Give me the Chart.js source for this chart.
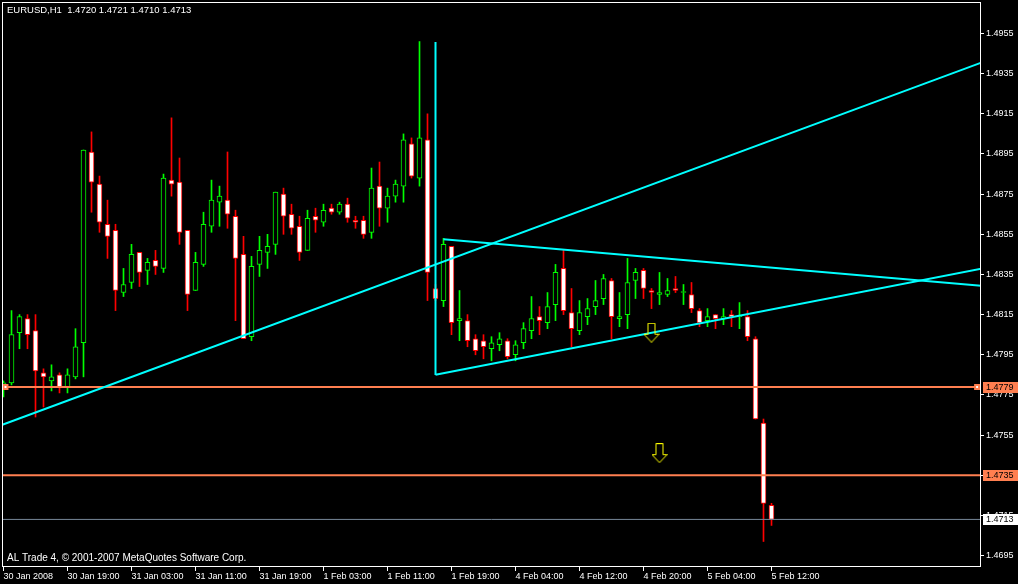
<!DOCTYPE html>
<html>
<head>
<meta charset="utf-8">
<script src="https://cdn.jsdelivr.net/npm/chart.js@4.4.1/dist/chart.umd.min.js"></script>
<style>
  html, body { margin: 0; padding: 0; background: #000; }
  #wrap { width: 1018px; height: 584px; }
</style>
</head>
<body>
<div id="wrap"><canvas id="chart" width="1018" height="584"></canvas></div>
<script>
// EURUSD H1 bars (bar 0 = 30 Jan 2008 11:00)
const open  = [1.4779,1.4781,1.4806,1.4813,1.4807,1.4786,1.4782,1.4785,1.4779,1.4784,
               1.4801,1.4896,1.4880,1.4860,1.4857,1.4826,1.4831,1.4846,1.4837,1.4842,
               1.4838,1.4882,1.4881,1.4857,1.4827,1.4840,1.4859,1.4871,1.4872,1.4864,
               1.4845,1.4804,1.4840,1.4846,1.4850,1.4875,1.4865,1.4859,1.4847,1.4864,
               1.4861,1.4868,1.4866,1.4870,1.4862,1.4862,1.4856,1.4879,1.4868,1.4874,
               1.4879,1.4900,1.4883,1.4902,1.4828,1.4822,1.4849,1.4812,1.4812,1.4803,
               1.4802,1.4798,1.4800,1.4802,1.4795,1.4801,1.4807,1.4814,1.4811,1.4820,
               1.4838,1.4816,1.4807,1.4814,1.4819,1.4823,1.4832,1.4813,1.4815,1.4832,
               1.4837,1.4827,1.4825,1.4825,1.4828,1.4826,1.4825,1.4817,1.4812,1.4815,
               1.4813,1.4815,1.4814,1.4814,1.4803,1.4761,1.4720];
const high  = [1.4782,1.4817,1.4815,1.4815,1.4815,1.4788,1.4790,1.4786,1.4788,1.4808,
               1.4897,1.4906,1.4884,1.4872,1.4860,1.4838,1.4850,1.4846,1.4843,1.4847,
               1.4885,1.4913,1.4893,1.4857,1.4846,1.4866,1.4882,1.4879,1.4896,1.4867,
               1.4854,1.4844,1.4854,1.4855,1.4876,1.4878,1.4870,1.4864,1.4867,1.4868,
               1.4870,1.4870,1.4871,1.4873,1.4864,1.4864,1.4888,1.4891,1.4878,1.4882,
               1.4905,1.4903,1.4951,1.4915,1.4830,1.4853,1.4849,1.4827,1.4815,1.4805,
               1.4805,1.4804,1.4806,1.4803,1.4802,1.4811,1.4824,1.4819,1.4826,1.4840,
               1.4847,1.4828,1.4822,1.4823,1.4832,1.4835,1.4833,1.4826,1.4843,1.4838,
               1.4838,1.4828,1.4836,1.4833,1.4834,1.4830,1.4831,1.4818,1.4818,1.4815,
               1.4818,1.4817,1.4821,1.4817,1.4804,1.4763,1.4721];
const low   = [1.4774,1.4780,1.4798,1.4798,1.4764,1.4769,1.4777,1.4776,1.4776,1.4783,
               1.4784,1.4866,1.4856,1.4843,1.4817,1.4824,1.4828,1.4829,1.4830,1.4835,
               1.4836,1.4874,1.4850,1.4817,1.4827,1.4839,1.4856,1.4859,1.4858,1.4812,
               1.4803,1.4802,1.4834,1.4838,1.4845,1.4855,1.4855,1.4842,1.4847,1.4856,
               1.4859,1.4865,1.4865,1.4861,1.4858,1.4853,1.4853,1.4859,1.4861,1.4871,
               1.4871,1.4883,1.4879,1.4822,1.4822,1.4819,1.4805,1.4802,1.4799,1.4795,
               1.4793,1.4792,1.4797,1.4793,1.4792,1.4798,1.4803,1.4805,1.4808,1.4812,
               1.4815,1.4799,1.4805,1.4810,1.4815,1.4820,1.4803,1.4809,1.4808,1.4823,
               1.4823,1.4818,1.4820,1.4824,1.4826,1.4820,1.4816,1.4809,1.4809,1.4808,
               1.4810,1.4809,1.4808,1.4802,1.4763,1.4702,1.4710];
const close = [1.4781,1.4805,1.4814,1.4805,1.4787,1.4784,1.4784,1.4779,1.4785,1.4799,
               1.4897,1.4881,1.4861,1.4854,1.4827,1.4830,1.4845,1.4836,1.4841,1.4839,
               1.4883,1.4880,1.4856,1.4825,1.4841,1.4860,1.4872,1.4874,1.4865,1.4843,
               1.4803,1.4839,1.4847,1.4849,1.4876,1.4864,1.4858,1.4846,1.4863,1.4862,
               1.4867,1.4866,1.4870,1.4863,1.4861,1.4855,1.4878,1.4868,1.4874,1.4880,
               1.4902,1.4884,1.4903,1.4836,1.4823,1.4850,1.4811,1.4813,1.4802,1.4797,
               1.4799,1.4801,1.4803,1.4794,1.4800,1.4808,1.4813,1.4812,1.4819,1.4836,
               1.4817,1.4808,1.4816,1.4818,1.4822,1.4833,1.4814,1.4814,1.4831,1.4836,
               1.4828,1.4826,1.4826,1.4827,1.4827,1.4826,1.4818,1.4811,1.4814,1.4813,
               1.4814,1.4814,1.4814,1.4804,1.4763,1.4721,1.4713];

const timeLabels = ['30 Jan 2008', '30 Jan 19:00', '31 Jan 03:00', '31 Jan 11:00', '31 Jan 19:00',
                    '1 Feb 03:00', '1 Feb 11:00', '1 Feb 19:00', '4 Feb 04:00', '4 Feb 12:00',
                    '4 Feb 20:00', '5 Feb 04:00', '5 Feb 12:00'];
const timeTickBars = [0, 8, 16, 24, 32, 40, 48, 56, 64, 72, 80, 88, 96];
const priceTicks = [1.4695, 1.4715, 1.4735, 1.4755, 1.4775, 1.4795, 1.4815, 1.4835,
                    1.4855, 1.4875, 1.4895, 1.4915, 1.4935, 1.4955];

// drawn objects: [bar, price] anchors
const trendLong   = [[-1, 1.47589], [124, 1.49431]];
const triVertical = [[54, 1.49508], [54, 1.47849]];
const triLower    = [[54, 1.47850], [124, 1.48393]];
const triUpper    = [[55, 1.48525], [124, 1.48287]];
const levels      = [1.4779, 1.4735];
const levelMarks  = [[0.25, 1.4779], [121.7, 1.4779]];
const bidPrice    = 1.4713;
const arrowMarks  = [[81, 1.4806], [82, 1.4746]];

const symbolText = 'EURUSD,H1  1.4720 1.4721 1.4710 1.4713';
const footerText = 'AL Trade 4, \u00A9 2001-2007 MetaQuotes Software Corp.';

const xMin = -0.1875, xMax = 122.1875;
const yMin = 1.46893, yMax = 1.49707;

const GREEN = '#00ff00', RED = '#ff0000', CYAN = '#00ffff', CORAL = '#ff7f50';

const bull = close.map((c, i) => c >= open[i]);
const pts = arr => arr.map(p => ({ x: p[0], y: p[1] }));
const hline = v => [{ x: -1, y: v }, { x: 124, y: v }];

function makeArrow() {
    const c = document.createElement('canvas');
    c.width = 16; c.height = 20;
    const g = c.getContext('2d');
    g.strokeStyle = '#ffff00';
    g.lineWidth = 1;
    g.beginPath();
    g.moveTo(4.5, 0.5); g.lineTo(11.5, 0.5); g.lineTo(11.5, 11.5); g.lineTo(15.5, 11.5);
    g.lineTo(8, 19.5); g.lineTo(0.5, 11.5); g.lineTo(4.5, 11.5); g.closePath();
    g.stroke();
    return c;
}

const lineDs = (data, color, width) => ({
    type: 'line', data, borderColor: color, borderWidth: width,
    pointRadius: 0, tension: 0, clip: 0, order: 2, fill: false
});

// frame, texts and price boxes on the axis
const decor = {
    id: 'decor',
    afterDraw(chart) {
        const { ctx, chartArea: a } = chart;
        const ys = chart.scales.y;
        ctx.save();
        ctx.strokeStyle = '#fff';
        ctx.lineWidth = 1;
        ctx.strokeRect(a.left + 0.5, a.top + 0.5, a.right - a.left - 1, a.bottom - a.top - 1);

        ctx.textBaseline = 'middle';
        ctx.textAlign = 'left';
        ctx.fillStyle = '#fff';
        ctx.font = '9.5px "Liberation Sans"';
        ctx.fillText(symbolText, 7, 10);
        ctx.font = '10px "Liberation Sans"';
        ctx.fillText(footerText, 7, 558);

        ctx.font = '9px "Liberation Sans"';
        const boxes = levels.map(v => [v, CORAL]).concat([[bidPrice, '#fff']]);
        boxes.forEach(([v, col]) => {
            const y = Math.round(ys.getPixelForValue(v));
            ctx.fillStyle = col;
            ctx.fillRect(a.right + 2, y - 5, 35, 11);
            ctx.fillStyle = '#000';
            ctx.fillText(v.toFixed(4), a.right + 5, y + 0.5);
        });
        ctx.restore();
    }
};

Chart.defaults.font.family = '"Liberation Sans", Arial, sans-serif';
Chart.defaults.font.size = 9;

new Chart(document.getElementById('chart'), {
    type: 'bar',
    data: {
        datasets: [
            {
                type: 'line', order: 0, showLine: false,
                data: pts(arrowMarks), pointStyle: makeArrow(), pointRadius: 8, clip: false
            },
            {
                type: 'line', order: 1, showLine: false,
                data: pts(levelMarks), pointStyle: 'rect', pointRadius: 2.8,
                pointBackgroundColor: '#fff', pointBorderColor: CORAL, pointBorderWidth: 2
            },
            lineDs(pts(trendLong), CYAN, 2),
            lineDs(pts(triVertical), CYAN, 2),
            lineDs(pts(triLower), CYAN, 2),
            lineDs(pts(triUpper), CYAN, 2),
            lineDs(hline(levels[0]), CORAL, 2),
            lineDs(hline(levels[1]), CORAL, 2),
            lineDs(hline(bidPrice), '#778899', 1),
            {
                // candle bodies
                order: 3, grouped: false, barThickness: 5, minBarLength: 1,
                data: open.map((o, i) => ({ x: i, y: [o, close[i]] })),
                backgroundColor: bull.map(b => b ? '#000' : '#fff'),
                borderColor: bull.map(b => b ? GREEN : RED),
                borderWidth: 1, borderSkipped: false, clip: 0
            },
            {
                // wicks
                order: 4, grouped: false, barThickness: 1, minBarLength: 1,
                data: low.map((l, i) => ({ x: i, y: [l, high[i]] })),
                backgroundColor: bull.map(b => b ? GREEN : RED),
                borderWidth: 0, clip: 0
            }
        ]
    },
    options: {
        responsive: false,
        animation: false,
        devicePixelRatio: 1,
        events: [],
        layout: { autoPadding: false, padding: { left: 2, top: 2, right: 0, bottom: 0 } },
        plugins: { legend: { display: false }, tooltip: { enabled: false } },
        scales: {
            x: {
                type: 'linear', min: xMin, max: xMax, offset: false,
                grid: { drawOnChartArea: false, drawTicks: true, tickLength: 4, color: '#fff', offset: false },
                border: { display: false },
                afterBuildTicks: s => { s.ticks = timeTickBars.map(v => ({ value: v })); },
                afterFit: s => { s.height = 17; s.paddingLeft = 0; s.paddingRight = 0; },
                ticks: {
                    color: '#fff', autoSkip: false, maxRotation: 0, minRotation: 0,
                    align: 'start', padding: 0,
                    callback: (v, i) => timeLabels[i]
                }
            },
            y: {
                type: 'linear', position: 'right', min: yMin, max: yMax, beginAtZero: false,
                grid: { drawOnChartArea: false, drawTicks: true, tickLength: 3, color: '#fff' },
                border: { display: false },
                afterBuildTicks: s => { s.ticks = priceTicks.map(v => ({ value: v })); },
                afterFit: s => { s.width = 37; s.paddingTop = 0; s.paddingBottom = 0; },
                ticks: { color: '#fff', padding: 2, callback: v => v.toFixed(4) }
            }
        }
    },
    plugins: [decor]
});
</script>
</body>
</html>
